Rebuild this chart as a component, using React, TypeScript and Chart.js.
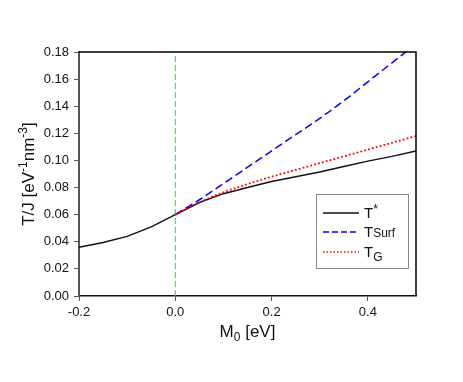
import React, { useEffect, useRef } from "react";
import { Chart, registerables } from "chart.js";

Chart.register(...registerables);

// M0 values [eV]
const mAll = [-0.2, -0.15, -0.1, -0.05, 0, 0.05, 0.1, 0.15, 0.2, 0.25, 0.3, 0.35, 0.4, 0.45, 0.5];
const tStar = [0.036, 0.0395, 0.044, 0.051, 0.06, 0.069, 0.0755, 0.08, 0.0845, 0.088, 0.0915, 0.0955, 0.0995, 0.103, 0.107];
const mPos = [0, 0.05, 0.1, 0.15, 0.2, 0.25, 0.3, 0.35, 0.4, 0.45, 0.5];
const tSurf = [0.06, 0.071, 0.083, 0.095, 0.107, 0.119, 0.131, 0.144, 0.158, 0.172, 0.186];
const tG = [0.06, 0.069, 0.0765, 0.0825, 0.088, 0.093, 0.098, 0.103, 0.108, 0.113, 0.118];
const markerX = [0, 0];
const markerY = [0, 0.18];

const FONT = "'Liberation Sans', Arial, sans-serif";

type Seg = { t: string; size: number; dy: number };

function drawRich(ctx: CanvasRenderingContext2D, segs: Seg[], x: number, y: number, align: "left" | "center") {
  let w = 0;
  for (const s of segs) {
    ctx.font = `${s.size}px ${FONT}`;
    w += ctx.measureText(s.t).width;
  }
  let cx = align === "center" ? x - w / 2 : x;
  ctx.textBaseline = "alphabetic";
  ctx.textAlign = "left";
  for (const s of segs) {
    ctx.font = `${s.size}px ${FONT}`;
    ctx.fillText(s.t, cx, y + s.dy);
    cx += ctx.measureText(s.t).width;
  }
}

const decorPlugin = {
  id: "decor",
  afterDraw(chart: any) {
    const ctx: CanvasRenderingContext2D = chart.ctx;
    const a = chart.chartArea;
    ctx.save();
    // top & right frame
    ctx.strokeStyle = "#000";
    ctx.lineWidth = 1.5;
    ctx.beginPath();
    ctx.moveTo(a.left, a.top);
    ctx.lineTo(a.right, a.top);
    ctx.lineTo(a.right, a.bottom);
    ctx.stroke();

    ctx.fillStyle = "#111";
    // x title
    drawRich(
      ctx,
      [
        { t: "M", size: 17, dy: 0 },
        { t: "0", size: 12, dy: 4 },
        { t: " [eV]", size: 17, dy: 0 },
      ],
      (a.left + a.right) / 2,
      337,
      "center"
    );
    // y title
    ctx.save();
    ctx.translate(34, (a.top + a.bottom) / 2);
    ctx.rotate(-Math.PI / 2);
    drawRich(
      ctx,
      [
        { t: "T/J [eV", size: 17, dy: 0 },
        { t: "-1", size: 12, dy: -7 },
        { t: "nm", size: 17, dy: 0 },
        { t: "-3", size: 12, dy: -7 },
        { t: "]", size: 17, dy: 0 },
      ],
      0,
      0,
      "center"
    );
    ctx.restore();

    // legend
    const bx = 316, by = 194, bw = 92, bh = 74;
    ctx.fillStyle = "#fff";
    ctx.fillRect(bx, by, bw, bh);
    ctx.strokeStyle = "#888";
    ctx.lineWidth = 1;
    ctx.strokeRect(bx + 0.5, by + 0.5, bw, bh);

    const rows = [
      { color: "#111", dash: [] as number[], width: 1.5, y: 213, segs: [{ t: "T", size: 15, dy: 0 }, { t: "*", size: 12, dy: -5 }] },
      { color: "#0000ff", dash: [6, 3], width: 1.5, y: 232, segs: [{ t: "T", size: 15, dy: 0 }, { t: "Surf", size: 12, dy: 0 }] },
      { color: "#ff0000", dash: [1.5, 2], width: 1.5, y: 252, segs: [{ t: "T", size: 15, dy: 0 }, { t: "G", size: 12, dy: 4 }] },
    ];
    for (const r of rows) {
      ctx.strokeStyle = r.color;
      ctx.lineWidth = r.width;
      ctx.setLineDash(r.dash);
      ctx.beginPath();
      ctx.moveTo(323, r.y);
      ctx.lineTo(359, r.y);
      ctx.stroke();
      ctx.setLineDash([]);
      ctx.fillStyle = "#111";
      drawRich(ctx, r.segs, 364, r.y + 5, "left");
    }
    ctx.restore();
  },
};

export default function App() {
  const ref = useRef<HTMLCanvasElement>(null);
  useEffect(() => {
    if (!ref.current) return;
    const chart = new Chart(ref.current, {
      type: "line",
      data: {
        datasets: [
          {
            label: "T*",
            data: mAll.map((x, i) => ({ x, y: tStar[i] })),
            borderColor: "#111",
            borderWidth: 1.5,
            pointRadius: 0,
            tension: 0,
            order: 3,
          },
          {
            label: "TSurf",
            data: mPos.map((x, i) => ({ x, y: tSurf[i] })),
            borderColor: "#0000ff",
            borderWidth: 1.5,
            borderDash: [8, 4],
            pointRadius: 0,
            cubicInterpolationMode: "monotone",
            order: 2,
          },
          {
            label: "TG",
            data: mPos.map((x, i) => ({ x, y: tG[i] })),
            borderColor: "#ff0000",
            borderWidth: 1.8,
            borderDash: [1.8, 2.2],
            pointRadius: 0,
            cubicInterpolationMode: "monotone",
            order: 1,
          },
          {
            label: "M0=0",
            data: markerX.map((x, i) => ({ x, y: markerY[i] })),
            borderColor: "#22e022",
            borderWidth: 1,
            borderDash: [6, 3],
            pointRadius: 0,
            order: 4,
          },
        ],
      },
      options: {
        responsive: false,
        animation: false,
        layout: { padding: { top: 52, right: 47, left: 0, bottom: 0 } },
        plugins: { legend: { display: false }, tooltip: { enabled: false } },
        scales: {
          x: {
            type: "linear",
            min: -0.2,
            max: 0.5,
            afterFit: (s: any) => {
              s.height = 86;
            },
            border: { color: "#111", width: 1.5 },
            grid: { drawOnChartArea: false, drawTicks: true, tickLength: 5, tickColor: "#555" },
            ticks: {
              stepSize: 0.2,
              includeBounds: false,
              padding: 4,
              color: "#111",
              font: { family: FONT, size: 13 },
              callback: (v: any) => Number(v).toFixed(1),
            },
          },
          y: {
            type: "linear",
            min: 0,
            max: 0.18,
            afterFit: (s: any) => {
              s.width = 79;
            },
            border: { color: "#555", width: 2 },
            grid: { drawOnChartArea: false, drawTicks: true, tickLength: 5, tickColor: "#555" },
            ticks: {
              stepSize: 0.02,
              padding: 5,
              color: "#111",
              font: { family: FONT, size: 13 },
              callback: (v: any) => Number(v).toFixed(2),
            },
          },
        },
      },
      plugins: [decorPlugin],
    } as any);
    return () => chart.destroy();
  }, []);
  return (
    <div style={{ position: "fixed", left: 0, top: 0, width: 463, height: 382, background: "#fff" }}>
      <canvas ref={ref} width={463} height={382} style={{ width: 463, height: 382, display: "block" }} />
    </div>
  );
}
